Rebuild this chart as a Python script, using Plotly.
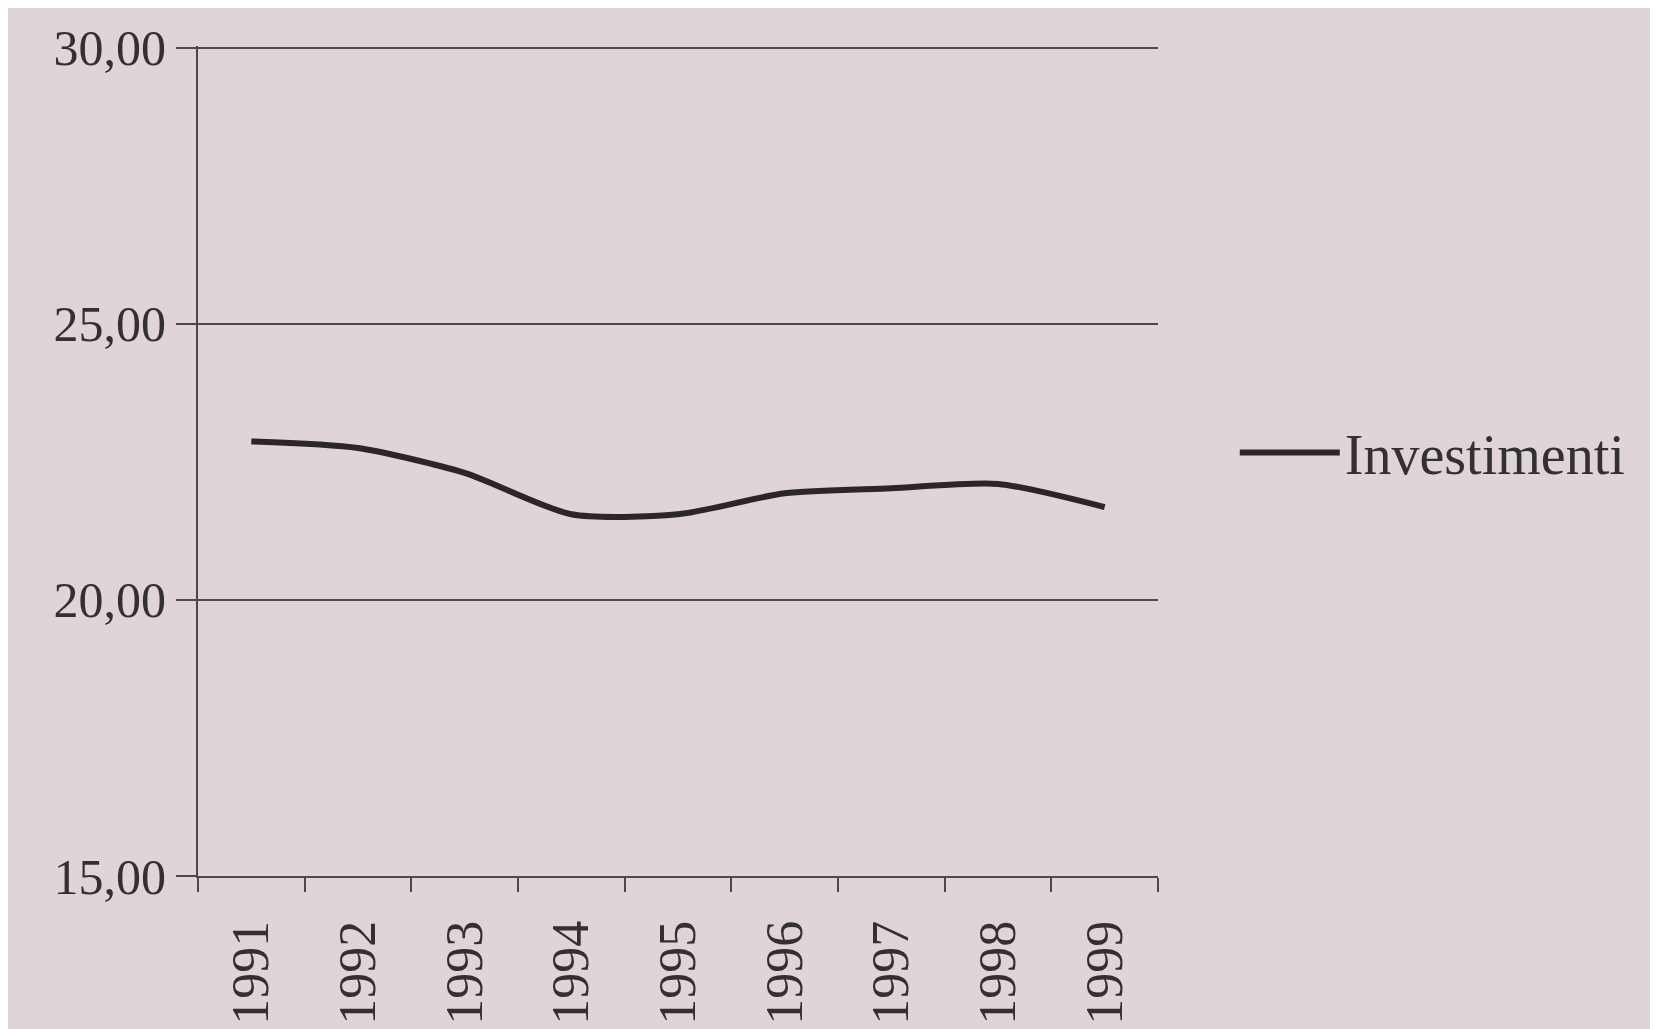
import plotly.graph_objects as go

years = ["1991", "1992", "1993", "1994", "1995", "1996", "1997", "1998", "1999"]
investimenti = [22.87, 22.75, 22.30, 21.55, 21.55, 21.93, 22.02, 22.10, 21.68]
y_ticks = [15, 20, 25, 30]
series_name = "Investimenti"

ink = "#2b2728"
grid = "#4d4849"
paper = "#dfd4d8"

fig = go.Figure()
fig.add_trace(go.Scatter(
    x=years, y=investimenti, mode="lines", name=series_name,
    line=dict(color=ink, width=6, shape="spline", smoothing=0.7),
    showlegend=True,
))

fig.update_layout(
    width=1658, height=1029,
    paper_bgcolor=paper, plot_bgcolor=paper,
    separators=",.",
    font=dict(family="Liberation Serif, Times New Roman, serif", size=48, color="#333031"),
    margin=dict(l=190, r=508, t=38, b=152),
    showlegend=True,
    legend=dict(
        x=1.08, y=0.51, xanchor="left", yanchor="middle",
        font=dict(size=56, color="#333031"),
        bgcolor="rgba(0,0,0,0)", itemwidth=100,
    ),
)
fig.update_xaxes(
    type="category", tickson="boundaries", range=[-0.5, 8.5],
    ticks="outside", ticklen=14, tickwidth=2, tickcolor=grid,
    showline=True, linecolor=grid, linewidth=2,
    showgrid=False, tickangle=-90, ticklabelstandoff=22,
    tickfont=dict(size=52),
)
fig.update_yaxes(
    range=[15, 30.03], tickvals=y_ticks, tickformat=".2f",
    ticks="outside", ticklen=20, tickwidth=2, tickcolor=grid,
    showline=True, linecolor=grid, linewidth=2,
    showgrid=True, gridcolor=grid, gridwidth=2,
    zeroline=False, tickfont=dict(size=50),
)

fig.write_html("out.html")
